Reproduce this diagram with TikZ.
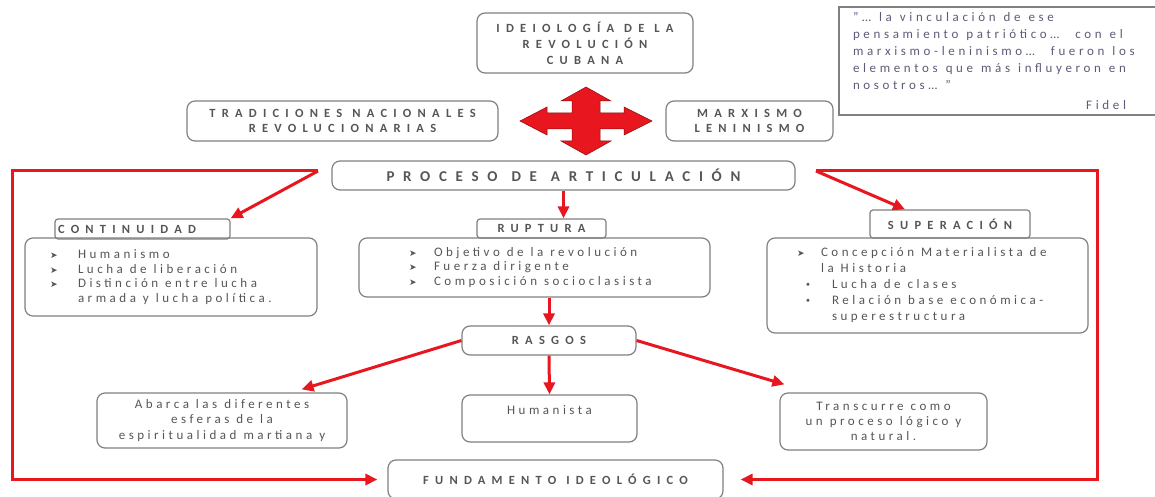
\documentclass[tikz,border=0pt]{standalone}
\usepackage{fontspec}
\setmainfont{Carlito}
\newfontfamily\symf{DejaVu Sans}
\usetikzlibrary{arrows.meta}
\definecolor{rd}{HTML}{E8161E}
\definecolor{bd}{HTML}{808080}
\definecolor{tx}{HTML}{555555}
\definecolor{qt}{HTML}{5E5A78}
\newcommand\arrb[1]{\makebox[#1][l]{\symf\fontsize{9}{9}\selectfont ➤}}
\newcommand\dotb[1]{\makebox[#1][l]{\symf\fontsize{10}{10}\selectfont •}}
\newcommand\wsHdr{\spaceskip 10pt\relax}
\newcommand\wsBig{\spaceskip 14pt\relax}
\newcommand\wsBody{\spaceskip 7pt\relax}
\newcommand\wsQuote{\spaceskip 8pt\relax}
\tikzset{
  box/.style={draw=bd, line width=1.2pt, rounded corners=8pt, inner sep=0pt, text=tx},
  tabbox/.style={draw=bd, line width=1.2pt, rounded corners=3pt, inner sep=0pt, text=tx},
  hdr/.style={font=\fontsize{12.5}{16}\selectfont\bfseries\addfontfeature{LetterSpace=50}, execute at begin node=\wsHdr},
  hdrb/.style={font=\fontsize{12.5}{15}\selectfont\bfseries\addfontfeature{LetterSpace=50}, execute at begin node=\wsHdr},
  bodyt/.style={font=\fontsize{13}{14.7}\selectfont\addfontfeature{LetterSpace=27}, execute at begin node=\wsBody},
  rl/.style={draw=rd, line width=3pt},
  ra/.style={rl, -{Triangle[length=12pt,width=11pt]}},
}
\begin{document}
\begin{tikzpicture}[x=1pt,y=-1pt]
\useasboundingbox (0,0) rectangle (1155,497);
% top boxes
\node[box, hdr, minimum width=216, minimum height=60, align=center] (ideo) at (585,43)
  {IDEIOLOGÍA DE LA\\REVOLUCIÓN\\CUBANA};
\node[box, hdrb, minimum width=311, minimum height=40, align=center] (trad) at (342.5,121)
  {TRADICIONES NACIONALES\\REVOLUCIONARIAS};
\node[box, hdrb, minimum width=167, minimum height=40, align=center] (marx) at (749.5,121)
  {MARXISMO\\LENINISMO};
% quote
\node[draw=bd, line width=1.5pt, minimum width=323, minimum height=108, inner xsep=14pt, inner ysep=0pt,
  text width=295, align=left, text=qt, font=\fontsize{13}{17}\selectfont\addfontfeature{LetterSpace=28},
  execute at begin node=\wsQuote] (quote) at (1000.5,61)
  {\mbox{"… la vinculación de ese}\\\mbox{pensamiento patriótico…\ \ con el}\\\mbox{marxismo-leninismo…\ \ fueron los}\\\mbox{elementos que más influyeron en}\\\mbox{nosotros… "}\\[3pt]\mbox{}\hfill Fidel\hspace*{22pt}};
% cross arrow
\filldraw[fill=rd, draw=rd!60!black, line width=0.5pt]
  (586,87) -- (611,101) -- (600,101) -- (600,113) -- (624,113) -- (624,107) -- (652,121)
  -- (624,135) -- (624,129) -- (600,129) -- (600,141) -- (611,141) -- (586,155)
  -- (561,141) -- (572,141) -- (572,129) -- (547,129) -- (547,135) -- (520,121)
  -- (547,107) -- (547,113) -- (572,113) -- (572,101) -- (561,101) -- cycle;
% proceso
\node[box, font=\fontsize{15}{15}\selectfont\bfseries\addfontfeature{LetterSpace=58}, execute at begin node=\wsBig, minimum width=463, minimum height=29] (proc) at (563.5,175.5)
  {PROCESO DE ARTICULACIÓN};
% continuidad
\node[tabbox, hdr, minimum height=20, inner xsep=3pt, text width=169, align=left] (contl) at (142.5,229) {CONTINUIDAD};
\node[box, bodyt, minimum width=292, minimum height=78, inner xsep=25pt, text width=242, align=left] (contc) at (171,277)
  {\mbox{\arrb{28pt}Humanismo}\\\mbox{\arrb{28pt}Lucha de liberación}\\\mbox{\arrb{28pt}Distinción entre lucha}\\\mbox{\hspace*{28pt}armada y lucha política.}};
% ruptura
\node[tabbox, hdr, minimum width=129, minimum height=19, align=center] (rupl) at (541.5,228.5) {RUPTURA};
\node[box, bodyt, minimum width=351, minimum height=59, inner xsep=50pt, text width=251, align=left] (rupc) at (534.5,267.5)
  {\mbox{\arrb{25pt}Objetivo de la revolución}\\\mbox{\arrb{25pt}Fuerza dirigente}\\\mbox{\arrb{25pt}Composición socioclasista}};
% superacion
\node[tabbox, hdr, minimum width=160, minimum height=28, align=center] (supl) at (950,224) {SUPERACIÓN};
\node[box, bodyt, font=\fontsize{13}{16}\selectfont\addfontfeature{LetterSpace=27}, minimum width=321, minimum height=95, inner xsep=30pt, text width=261, align=left] (supc) at (927.5,285.5)
  {\mbox{\arrb{24pt}Concepción Materialista de}\\\mbox{\hspace*{24pt}la Historia}\\\mbox{\hspace*{8pt}\dotb{27pt}Lucha de clases}\\\mbox{\hspace*{8pt}\dotb{27pt}Relación base económica-}\\\mbox{\hspace*{35pt}superestructura}};
% rasgos
\node[box, hdr, minimum width=174, minimum height=29, align=center] (ras) at (549,340.5) {RASGOS};
% bottom boxes
\node[box, bodyt, font=\fontsize{13}{15.5}\selectfont\addfontfeature{LetterSpace=27}, minimum width=250, minimum height=55, align=center] (abar) at (222,420.5)
  {Abarca las diferentes\\esferas de la\\espiritualidad martiana y};
\node[box, bodyt, font=\fontsize{13}{17}\selectfont\addfontfeature{LetterSpace=27}, minimum width=175, minimum height=47, align=center] (hum) at (549.5,418.5)
  {Humanista\\\mbox{}};
\node[box, bodyt, font=\fontsize{13}{15}\selectfont\addfontfeature{LetterSpace=27}, minimum width=207, minimum height=57, align=center] (trans) at (883.5,421.5)
  {Transcurre como\\un proceso lógico y\\natural.};
\node[box, hdr, minimum width=335, minimum height=39, align=center] (fund) at (555.5,479.5) {FUNDAMENTO IDEOLÓGICO};
% connectors
\coordinate (pl) at (318,171);
\coordinate (cl) at (12,171);
\coordinate (pr) at (816,171);
\coordinate (cr) at (1097,171);
\draw[ra, shorten >=10pt] (pl) -- (cl) |- (fund.west);
\draw[ra, shorten >=17pt] (pr) -- (cr) |- (fund.east);
\draw[ra] (pl) -- (contl.north east);
\draw[ra] (pr) -- ([xshift=-45pt]supl.north);
\draw[ra] (proc.south) -- (proc.south |- rupl.north);
\draw[ra] (ras.north |- rupc.south) -- (ras.north);
\draw[ra] (ras.west) -- ([xshift=-46pt,yshift=3pt]abar.north east);
\draw[ra] (ras.east) -- ([xshift=5pt,yshift=8pt]trans.north west);
\draw[ra] (ras.south) -- (hum.north);
\end{tikzpicture}
\end{document}
